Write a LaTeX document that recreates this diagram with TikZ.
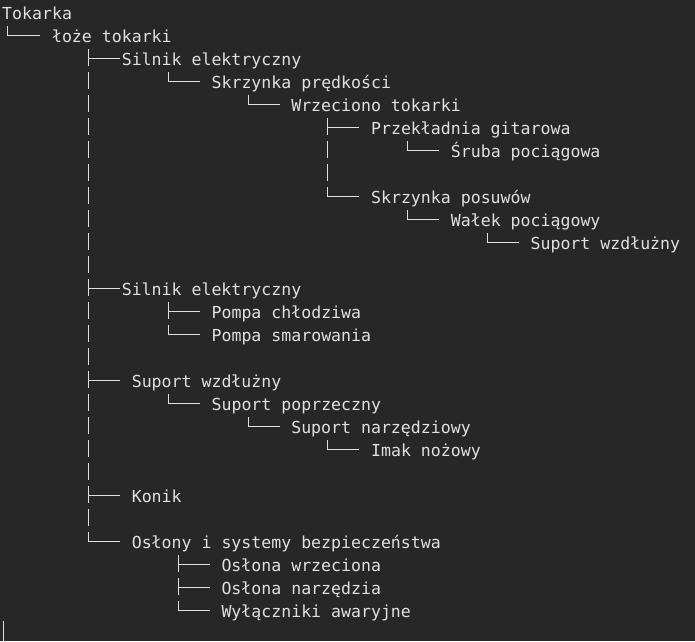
\documentclass[tikz,border=0pt]{standalone}
\usepackage{fontspec}
\newfontfamily\treefont{DejaVu Sans Mono}
\usepackage{tikz}
\definecolor{termbg}{HTML}{272727}
\definecolor{termfg}{HTML}{E0E0E0}

\begin{document}
\begin{tikzpicture}[x=1pt,y=-1pt,
  item/.style={anchor=west,inner sep=0pt,text height=13.4pt,text depth=0pt,
    text=termfg,font=\treefont\fontsize{16.56pt}{23pt}\selectfont},
  stem/.style={draw=termfg,line width=1pt,dash pattern=on 16.5pt off 6.5pt},
  arm/.style={draw=termfg,line width=1pt}]
\fill[termbg] (0,0) rectangle (695,641);
\useasboundingbox (0,0) rectangle (695,641);
\node[item] (tok) at (2,12.5) {Tokarka};
\node[item] (loze) at (51.85,35.5) {łoże tokarki};
\node[item] (silnikA) at (121.6,58.5) {Silnik elektryczny};
\node[item] (skrzPred) at (211.4,81.5) {Skrzynka prędkości};
\node[item] (wrzec) at (291.1,104.5) {Wrzeciono tokarki};
\node[item] (przekl) at (370.9,127.5) {Przekładnia gitarowa};
\node[item] (sruba) at (450.7,150.5) {Śruba pociągowa};
\node[item] (skrzPos) at (370.9,196.5) {Skrzynka posuwów};
\node[item] (walek) at (450.7,219.5) {Wałek pociągowy};
\node[item] (suportA) at (530.4,242.5) {Suport wzdłużny};
\node[item] (silnikB) at (121.6,288.5) {Silnik elektryczny};
\node[item] (pompaCh) at (211.4,311.5) {Pompa chłodziwa};
\node[item] (pompaSm) at (211.4,334.5) {Pompa smarowania};
\node[item] (suportW) at (131.6,380.5) {Suport wzdłużny};
\node[item] (suportP) at (211.4,403.5) {Suport poprzeczny};
\node[item] (suportN) at (291.1,426.5) {Suport narzędziowy};
\node[item] (imak) at (370.9,449.5) {Imak nożowy};
\node[item] (konik) at (131.6,495.5) {Konik};
\node[item] (oslony) at (131.6,541.5) {Osłony i systemy bezpieczeństwa};
\node[item] (oslWrz) at (221.3,564.5) {Osłona wrzeciona};
\node[item] (oslNarz) at (221.3,587.5) {Osłona narzędzia};
\node[item] (wylacz) at (221.3,610.5) {Wyłączniki awaryjne};
\coordinate (s0) at (7.5,26);
\coordinate (s8) at (88.5,49);
\coordinate (s16a) at (168.5,72);
\coordinate (s24a) at (248.5,95);
\coordinate (s32a) at (327.5,118);
\coordinate (s40a) at (407.5,141);
\coordinate (s40b) at (407.5,210);
\coordinate (s48) at (487.5,233);
\coordinate (s16b) at (168.5,302);
\coordinate (s16c) at (168.5,394);
\coordinate (s24b) at (248.5,417);
\coordinate (s32b) at (327.5,440);
\coordinate (s17) at (178.5,555);
\coordinate (caret) at (3.5,621);
\draw[stem] (s0) -- (s0 |- loze.west);
\draw[stem] (s8) -- (s8 |- oslony.west);
\draw[stem] (s16a) -- (s16a |- skrzPred.west);
\draw[stem] (s24a) -- (s24a |- wrzec.west);
\draw[stem] (s32a) -- (s32a |- skrzPos.west);
\draw[stem] (s40a) -- (s40a |- sruba.west);
\draw[stem] (s40b) -- (s40b |- walek.west);
\draw[stem] (s48) -- (s48 |- suportA.west);
\draw[stem] (s16b) -- (s16b |- pompaSm.west);
\draw[stem] (s16c) -- (s16c |- suportP.west);
\draw[stem] (s24b) -- (s24b |- suportN.west);
\draw[stem] (s32b) -- (s32b |- imak.west);
\draw[stem] (s17) -- (s17 |- wylacz.west);
\draw[arm] (s0 |- loze.west) ++(-0.5,0) -- ++(32.5,0);
\draw[arm] (s8 |- silnikA.west) ++(-0.5,0) -- ++(31.5,0);
\draw[arm] (s16a |- skrzPred.west) ++(-0.5,0) -- ++(31.5,0);
\draw[arm] (s24a |- wrzec.west) ++(-0.5,0) -- ++(31.5,0);
\draw[arm] (s32a |- przekl.west) ++(-0.5,0) -- ++(31.5,0);
\draw[arm] (s40a |- sruba.west) ++(-0.5,0) -- ++(31.5,0);
\draw[arm] (s32a |- skrzPos.west) ++(-0.5,0) -- ++(31.5,0);
\draw[arm] (s40b |- walek.west) ++(-0.5,0) -- ++(31.5,0);
\draw[arm] (s48 |- suportA.west) ++(-0.5,0) -- ++(31.5,0);
\draw[arm] (s8 |- silnikB.west) ++(-0.5,0) -- ++(31.5,0);
\draw[arm] (s16b |- pompaCh.west) ++(-0.5,0) -- ++(31.5,0);
\draw[arm] (s16b |- pompaSm.west) ++(-0.5,0) -- ++(31.5,0);
\draw[arm] (s8 |- suportW.west) ++(-0.5,0) -- ++(31.5,0);
\draw[arm] (s16c |- suportP.west) ++(-0.5,0) -- ++(31.5,0);
\draw[arm] (s24b |- suportN.west) ++(-0.5,0) -- ++(31.5,0);
\draw[arm] (s32b |- imak.west) ++(-0.5,0) -- ++(31.5,0);
\draw[arm] (s8 |- konik.west) ++(-0.5,0) -- ++(31.5,0);
\draw[arm] (s8 |- oslony.west) ++(-0.5,0) -- ++(31.5,0);
\draw[arm] (s17 |- oslWrz.west) ++(-0.5,0) -- ++(31.5,0);
\draw[arm] (s17 |- oslNarz.west) ++(-0.5,0) -- ++(31.5,0);
\draw[arm] (s17 |- wylacz.west) ++(-0.5,0) -- ++(31.5,0);
\draw[termfg,line width=1pt] (caret) -- ++(0,20);
\end{tikzpicture}
\end{document}
